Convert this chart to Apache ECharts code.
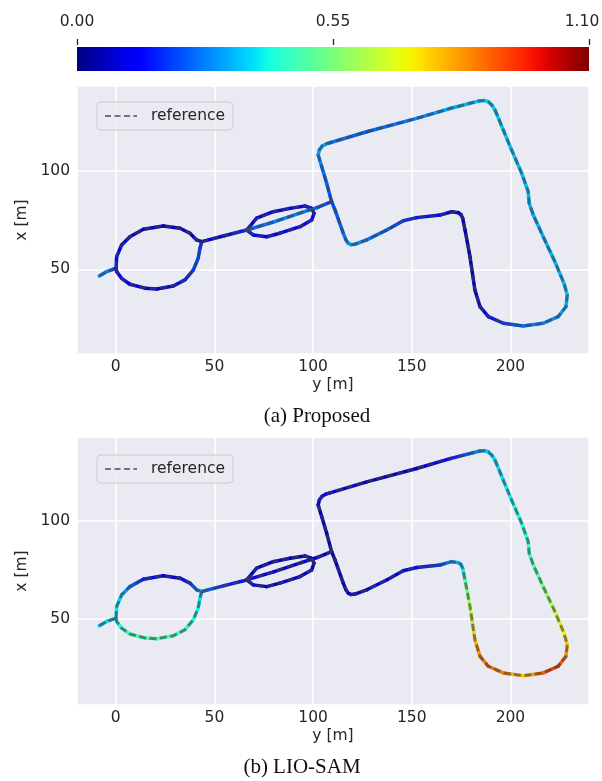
<!DOCTYPE html>
<html><head><meta charset="utf-8">
<script src="https://cdn.jsdelivr.net/npm/echarts/dist/echarts.min.js"></script>
<style>html,body{margin:0;padding:0;background:#fff}#c{width:602px;height:781px}</style>
</head><body><div id="c"></div>
<script>
// Each point: [y (m), x (m), error Proposed (m), error LIO-SAM (m)]
const tailPts = [[-8.3,46.6,0.28,0.36],[-4.6,48.8,0.28,0.36],[-1.2,50.0,0.24,0.36],[0.2,50.5,0.18,0.38]];
const ellipseTop = [[0.2,50.5,0.16,0.38],[0.5,56.4,0.12,0.38],[3.0,62.3,0.09,0.34],[7.2,66.5,0.07,0.26],[14.0,70.3,0.06,0.16],[24.1,72.0,0.05,0.09],[32.6,70.8,0.06,0.11],[37.6,68.3,0.07,0.18],[41.0,64.9,0.09,0.28],[43.6,64.0,0.1,0.3]];
const ellipseBottom = [[0.2,50.5,0.16,0.38],[0.5,48.8,0.13,0.4],[3.0,45.4,0.11,0.43],[7.2,42.4,0.09,0.46],[14.8,40.4,0.08,0.48],[20.8,40.0,0.09,0.48],[29.2,41.5,0.12,0.46],[35.1,44.6,0.16,0.44],[39.3,49.6,0.2,0.42],[41.8,55.6,0.22,0.4],[42.7,60.6,0.2,0.38],[43.6,64.0,0.14,0.32]];
const roadPts = [[43.6,64.0,0.1,0.28],[55.0,67.0,0.09,0.18],[66.4,69.9,0.18,0.12]];
const centerPts = [[66.4,69.9,0.24,0.12],[80.0,74.0,0.28,0.1],[94.0,78.7,0.28,0.09],[102.0,81.3,0.24,0.08],[109.4,84.3,0.22,0.08]];
const ovalPts = [[66.4,69.9,0.12,0.1],[71.4,75.9,0.1,0.08],[79.8,79.2,0.1,0.07],[88.3,80.9,0.12,0.07],[95.9,82.1,0.12,0.07],[99.3,80.9,0.12,0.07],[100.5,78.4,0.12,0.07],[99.3,75.0,0.12,0.07],[93.4,71.6,0.1,0.07],[83.2,68.3,0.1,0.07],[76.5,66.5,0.12,0.08],[69.7,67.4,0.12,0.1],[66.4,69.9,0.12,0.1]];
const loopPts = [[109.4,84.3,0.22,0.06],[106.9,93.6,0.24,0.06],[104.4,102.0,0.27,0.06],[102.6,108.0,0.3,0.08],[103.2,110.6,0.32,0.1],[104.6,112.5,0.32,0.12],[106.6,113.6,0.3,0.12],[108.6,114.2,0.27,0.1],[127.2,119.8,0.24,0.06],[152.5,126.6,0.28,0.06],[169.4,131.6,0.32,0.14],[184.5,135.5,0.35,0.3],[187.0,135.6,0.35,0.33],[188.8,135.0,0.35,0.35],[190.6,133.3,0.35,0.36],[192.2,130.8,0.35,0.37],[196.4,120.6,0.35,0.38],[200.6,110.5,0.35,0.4],[205.7,98.7,0.34,0.42],[209.0,89.4,0.34,0.44],[209.5,83.5,0.33,0.45],[211.6,77.5,0.33,0.47],[216.6,66.5,0.33,0.54],[222.5,53.9,0.33,0.64],[227.1,42.9,0.34,0.72],[228.8,37.0,0.34,0.78],[228.1,31.0,0.32,0.85],[224.2,26.0,0.3,0.95],[216.6,22.6,0.28,0.9],[206.5,21.2,0.26,0.76],[196.4,22.6,0.2,0.85],[188.8,26.0,0.12,0.88],[184.6,31.0,0.08,0.85],[182.0,39.5,0.06,0.78],[179.5,56.4,0.05,0.62],[177.0,69.9,0.04,0.48],[175.8,75.9,0.04,0.38],[174.9,77.8,0.05,0.34],[173.6,78.7,0.06,0.32],[170.2,79.2,0.08,0.3],[164.3,77.5,0.12,0.2],[152.5,76.2,0.16,0.15],[145.7,74.6,0.2,0.12],[137.3,69.9,0.24,0.1],[127.2,64.9,0.27,0.09],[121.2,62.7,0.3,0.08],[119.2,62.5,0.3,0.07],[117.8,63.2,0.3,0.07],[116.6,65.0,0.28,0.07],[115.3,68.3,0.26,0.07],[111.1,80.1,0.23,0.06],[109.4,84.3,0.22,0.06]];
const paths = [tailPts, ellipseTop, ellipseBottom, roadPts, ovalPts, centerPts, loopPts];

const errMin = 0, errMax = 1.1;
const cbTicks = [0, 0.55, 1.1];
const yRange = [-19.6, 239.8];
const xRangeA = [7.0, 143.0];
const xRangeB = [6.3, 142.6];
const captions = ['(a) Proposed', '(b) LIO-SAM'];

function lerp(t, pts){ for(let i=0;i<pts.length-1;i++){ if(t<=pts[i+1][0]){ const a=pts[i],b=pts[i+1]; return a[1]+(b[1]-a[1])*(t-a[0])/(b[0]-a[0]); } } return pts[pts.length-1][1]; }
function jet(t){
  t = Math.max(0, Math.min(1, t));
  const r = lerp(t, [[0,0],[0.35,0],[0.66,1],[0.89,1],[1,0.5]]);
  const g = lerp(t, [[0,0],[0.125,0],[0.375,1],[0.64,1],[0.91,0],[1,0]]);
  const b = lerp(t, [[0,0.5],[0.11,1],[0.34,1],[0.65,0],[1,0]]);
  return 'rgb(' + Math.round(r*255) + ',' + Math.round(g*255) + ',' + Math.round(b*255) + ')';
}
const jetStops = [];
for (let i = 0; i <= 40; i++) jetStops.push({offset: i/40, color: jet(i/40)});

function segments(k){
  const out = [];
  paths.forEach(p => { for (let i=0;i<p.length-1;i++) out.push([p[i][0],p[i][1],p[i+1][0],p[i+1][1],p[i][k],p[i+1][k]]); });
  return out;
}
function renderSeg(params, api){
  const p1 = api.coord([api.value(0), api.value(1)]);
  const p2 = api.coord([api.value(2), api.value(3)]);
  const c1 = jet((api.value(4)-errMin)/(errMax-errMin));
  const c2 = jet((api.value(5)-errMin)/(errMax-errMin));
  const same = Math.abs(p1[0]-p2[0]) + Math.abs(p1[1]-p2[1]) < 0.01;
  const stroke = same ? c1 : new echarts.graphic.LinearGradient(p1[0],p1[1],p2[0],p2[1],[{offset:0,color:c1},{offset:1,color:c2}],true);
  return {type:'line', shape:{x1:p1[0],y1:p1[1],x2:p2[0],y2:p2[1]}, style:{stroke:stroke, lineWidth:3.5, lineCap:'round', fill:null}};
}

const FONT = 'DejaVu Sans';
const TXT = '#262626';
const REF = 'rgba(65,65,65,0.62)';
function plotX(gi){
  return {type:'value', gridIndex:gi, min:yRange[0], max:yRange[1], splitNumber:5, minInterval:50, maxInterval:50,
    axisLine:{show:false}, axisTick:{show:false},
    splitLine:{show:true, lineStyle:{color:'#ffffff', width:1.5}},
    axisLabel:{fontSize:15.5, color:TXT, fontFamily:FONT, margin:5, showMinLabel:false, showMaxLabel:false},
    name:'y [m]', nameLocation:'middle', nameGap:23, nameTextStyle:{fontSize:15.5, color:TXT, fontFamily:FONT}};
}
function plotY(gi, r){
  return {type:'value', gridIndex:gi, min:r[0], max:r[1], splitNumber:3, minInterval:50, maxInterval:50,
    axisLine:{show:false}, axisTick:{show:false},
    splitLine:{show:true, lineStyle:{color:'#ffffff', width:1.5}},
    axisLabel:{fontSize:15.5, color:TXT, fontFamily:FONT, margin:7, showMinLabel:false, showMaxLabel:false},
    name:'x [m]', nameLocation:'middle', nameGap:45, nameTextStyle:{fontSize:15.5, color:TXT, fontFamily:FONT}};
}

const series = [];
[[0,2],[1,3]].forEach((pair, gi) => {
  series.push({type:'custom', xAxisIndex:gi, yAxisIndex:gi, data:segments(pair[1]), encode:{x:[0,2], y:[1,3]}, renderItem:renderSeg, clip:true, z:2, silent:true});
  paths.forEach(p => {
    series.push({type:'line', name:'reference', xAxisIndex:gi, yAxisIndex:gi, data:p.map(q => [q[0], q[1]]),
      symbol:'none', z:3, silent:true, lineStyle:{color:REF, width:2.9, type:[7,3.5]}, itemStyle:{color:REF}});
  });
});
series.push({type:'custom', xAxisIndex:2, yAxisIndex:2, data:[[errMin, errMax]], encode:{x:[0,1]}, silent:true,
  renderItem:function(params, api){
    const a = api.coord([api.value(0), 0]);
    const b = api.coord([api.value(1), 1]);
    return {type:'rect', shape:{x:a[0], y:b[1], width:b[0]-a[0], height:a[1]-b[1]}, style:{fill:new echarts.graphic.LinearGradient(0,0,1,0,jetStops)}};
  }});

function legendCfg(top){
  return {data:['reference'], left:97, top:top, orient:'vertical', padding:[6,8,6,7], itemWidth:32, itemHeight:12,
    backgroundColor:'rgba(234,234,242,0.85)', borderColor:'#cccccc', borderWidth:1, borderRadius:4,
    itemStyle:{opacity:0}, lineStyle:{width:2, color:'rgba(95,95,95,0.85)', type:[6,3.5]},
    textStyle:{fontSize:15.5, color:TXT, fontFamily:FONT, padding:[0,0,0,9]}, selectedMode:false};
}

const chart = echarts.init(document.getElementById('c'), null, {renderer:'canvas'});
chart.setOption({
  animation:false,
  backgroundColor:'#ffffff',
  grid:[
    {left:77, top:86, width:512, height:268, show:true, backgroundColor:'#eaeaf2', borderWidth:0, outerBoundsMode:'none', containLabel:false},
    {left:77, top:437, width:512, height:268, show:true, backgroundColor:'#eaeaf2', borderWidth:0, outerBoundsMode:'none', containLabel:false},
    {left:77, top:47, width:512, height:24, show:false, outerBoundsMode:'none', containLabel:false}
  ],
  xAxis:[plotX(0), plotX(1),
    {type:'value', gridIndex:2, min:errMin, max:errMax, interval:0.55, position:'top', offset:2,
     axisLine:{show:true, onZero:false, lineStyle:{color:'rgba(0,0,0,0)', width:0}},
     axisTick:{show:true, inside:false, length:6, lineStyle:{color:TXT, width:1.3}}, splitLine:{show:false},
     axisLabel:{fontSize:15.5, color:TXT, fontFamily:FONT, margin:15,
       formatter:v => (v >= errMax - 1e-9 ? '{r|' + v.toFixed(2) + '}' : v.toFixed(2)),
       rich:{r:{fontSize:15.5, color:TXT, fontFamily:FONT, padding:[0,14,0,0]}}}}],
  yAxis:[plotY(0, xRangeA), plotY(1, xRangeB), {type:'value', gridIndex:2, min:0, max:1, show:false}],
  legend:[legendCfg(102), legendCfg(455)],
  series:series,
  graphic:[
    {type:'text', x:317, y:416, style:{text:captions[0], font:'21px "Liberation Serif"', fill:'#111', align:'center', verticalAlign:'middle'}},
    {type:'text', x:302, y:767, style:{text:captions[1], font:'21px "Liberation Serif"', fill:'#111', align:'center', verticalAlign:'middle'}}
  ]
});
</script></body></html>
